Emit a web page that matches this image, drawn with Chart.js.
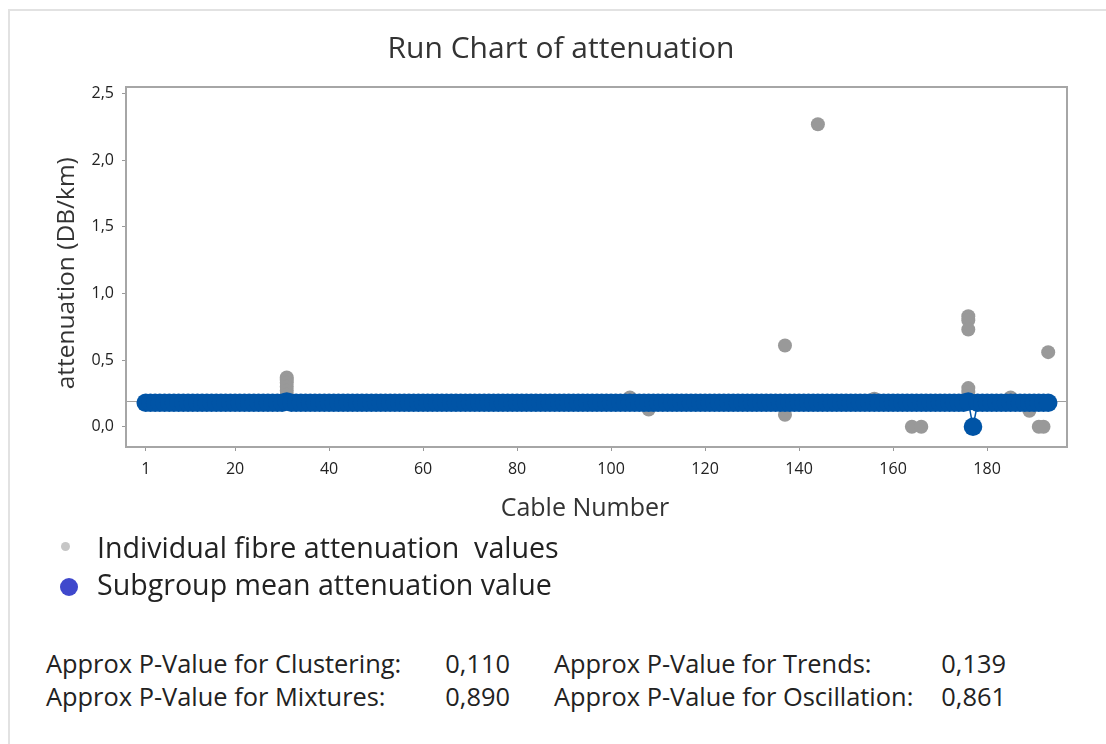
<!DOCTYPE html>
<html>
<head>
<meta charset="utf-8">
<title>Run Chart of attenuation</title>
<script src="https://cdn.jsdelivr.net/npm/chart.js@4.4.1/dist/chart.umd.min.js"></script>
<style>
  body { margin: 0; background: #fff; width: 1106px; height: 744px; overflow: hidden; position: relative; font-family: "Open Sans", sans-serif; }
  #bordo { position: absolute; left: 8px; top: 9px; width: 1200px; height: 800px; border-left: 2px solid #e2e2e2; border-top: 2px solid #e2e2e2; }
  #myChart { position: absolute; left: 0; top: 0; }
  .tit { position: absolute; color: #333; white-space: pre; line-height: 1; text-align: center; }
  .leg { position: absolute; left: 97px; font-size: 28.6px; color: #222; white-space: pre; line-height: 1; }
  .dot { position: absolute; border-radius: 50%; }
  .pv { position: absolute; font-size: 25.4px; color: #222; white-space: pre; line-height: 1; }
  .num { text-align: right; width: 90px; }
</style>
</head>
<body>
<div id="bordo"></div>
<canvas id="myChart" width="1106" height="530"></canvas>

<div class="tit" style="left:361px; width:400px; top:32px; font-size:30px;">Run Chart of attenuation</div>
<div class="tit" style="left:435px; width:300px; top:494px; font-size:25px;">Cable Number</div>
<div class="tit" style="left:-85px; width:300px; top:261px; font-size:24.5px; transform: rotate(-90deg);">attenuation (DB/km)</div>

<div class="dot" style="left:61px; top:542px; width:9px; height:9px; background:#c6c6c6;"></div>
<div class="leg" style="top:533px;">Individual fibre attenuation  values</div>
<div class="dot" style="left:60px; top:578px; width:18px; height:18px; background:#3f48cc;"></div>
<div class="leg" style="top:570px;">Subgroup mean attenuation value</div>

<div class="pv" style="left:46px; top:651px;">Approx P-Value for Clustering:</div>
<div class="pv num" style="left:420px; top:651px;">0,110</div>
<div class="pv" style="left:554px; top:651px;">Approx P-Value for Trends:</div>
<div class="pv num" style="left:916px; top:651px;">0,139</div>
<div class="pv" style="left:46px; top:684px;">Approx P-Value for Mixtures:</div>
<div class="pv num" style="left:420px; top:684px;">0,890</div>
<div class="pv" style="left:554px; top:684px;">Approx P-Value for Oscillation:</div>
<div class="pv num" style="left:916px; top:684px;">0,861</div>

<script>
// valori

// singole fibre (solo quelle che escono dalla fascia blu)
var fibreCable = [31, 31, 31, 31, 31, 31, 104, 108, 137, 137, 144, 156, 164, 166,
                  176, 176, 176, 176, 176, 176, 177, 185, 189, 191, 192, 193];
var fibreValue = [0.37, 0.35, 0.33, 0.30, 0.27, 0.24, 0.22, 0.13, 0.61, 0.09, 2.27, 0.21, 0.00, 0.00,
                  0.83, 0.80, 0.73, 0.29, 0.26, 0.23, 0.00, 0.22, 0.12, 0.00, 0.00, 0.56];

// media di ogni sottogruppo, cavo 1 .. 193
var meanValue = [
  0.18, 0.18, 0.18, 0.18, 0.18, 0.18, 0.18, 0.18, 0.18, 0.18,
  0.18, 0.18, 0.18, 0.18, 0.18, 0.18, 0.18, 0.18, 0.18, 0.18,
  0.18, 0.18, 0.18, 0.18, 0.18, 0.18, 0.18, 0.18, 0.18, 0.18,
  0.19, 0.18, 0.18, 0.18, 0.18, 0.18, 0.18, 0.18, 0.18, 0.18,
  0.18, 0.18, 0.18, 0.18, 0.18, 0.18, 0.18, 0.18, 0.18, 0.18,
  0.18, 0.18, 0.18, 0.18, 0.18, 0.18, 0.18, 0.18, 0.18, 0.18,
  0.18, 0.18, 0.18, 0.18, 0.18, 0.18, 0.18, 0.18, 0.18, 0.18,
  0.18, 0.18, 0.18, 0.18, 0.18, 0.18, 0.18, 0.18, 0.18, 0.18,
  0.18, 0.18, 0.18, 0.18, 0.18, 0.18, 0.18, 0.18, 0.18, 0.18,
  0.18, 0.18, 0.18, 0.18, 0.18, 0.18, 0.18, 0.18, 0.18, 0.18,
  0.18, 0.18, 0.18, 0.18, 0.18, 0.18, 0.18, 0.18, 0.18, 0.18,
  0.18, 0.18, 0.18, 0.18, 0.18, 0.18, 0.18, 0.18, 0.18, 0.18,
  0.18, 0.18, 0.18, 0.18, 0.18, 0.18, 0.18, 0.18, 0.18, 0.18,
  0.18, 0.18, 0.18, 0.18, 0.18, 0.18, 0.18, 0.18, 0.18, 0.18,
  0.18, 0.18, 0.18, 0.18, 0.18, 0.18, 0.18, 0.18, 0.18, 0.18,
  0.18, 0.18, 0.18, 0.18, 0.18, 0.18, 0.18, 0.18, 0.18, 0.18,
  0.18, 0.18, 0.18, 0.18, 0.18, 0.18, 0.18, 0.18, 0.18, 0.18,
  0.18, 0.18, 0.18, 0.18, 0.18, 0.19, 0.00, 0.18, 0.18, 0.18,
  0.18, 0.18, 0.18, 0.18, 0.18, 0.18, 0.18, 0.18, 0.18, 0.18,
  0.18, 0.18, 0.18
];

var medianValue = 0.19;
var xTickLabels = [1, 20, 40, 60, 80, 100, 120, 140, 160, 180];
var yTickLabels = [0, 0.5, 1.0, 1.5, 2.0, 2.5];

// costruisco i punti per chart.js
var puntiFibre = [];
for (var i = 0; i < fibreCable.length; i++) {
  puntiFibre.push({x: fibreCable[i], y: fibreValue[i]});
}
var puntiMedie = [];
for (var i = 0; i < meanValue.length; i++) {
  puntiMedie.push({x: i + 1, y: meanValue[i]});
}

// linea della mediana + cornice del grafico
var cornice = {
  id: 'cornice',
  beforeDatasetsDraw: function(chart) {
    var ctx = chart.ctx, a = chart.chartArea;
    var y = Math.round(chart.scales.y.getPixelForValue(medianValue)) + 0.5;
    ctx.save();
    ctx.strokeStyle = '#a0a0a0';
    ctx.lineWidth = 1;
    ctx.beginPath();
    ctx.moveTo(a.left, y);
    ctx.lineTo(a.right, y);
    ctx.stroke();
    ctx.restore();
  },
  afterDraw: function(chart) {
    var ctx = chart.ctx, a = chart.chartArea;
    ctx.save();
    ctx.strokeStyle = '#a6a6a6';
    ctx.lineWidth = 2;
    ctx.strokeRect(a.left, a.top, a.right - a.left, a.bottom - a.top);
    ctx.restore();
  }
};

var ctx = document.getElementById('myChart').getContext('2d');
var myChart = new Chart(ctx, {
  type: 'scatter',
  data: {
    datasets: [{
      label: 'Subgroup mean attenuation value',
      type: 'line',
      data: puntiMedie,
      borderColor: '#0054a6',
      borderWidth: 1.5,
      backgroundColor: '#0054a6',
      pointBackgroundColor: '#0054a6',
      pointBorderWidth: 0,
      pointRadius: 9.3,
      showLine: true,
      tension: 0,
      order: 1
    }, {
      label: 'Individual fibre attenuation values',
      data: puntiFibre,
      pointBackgroundColor: '#999999',
      pointBorderWidth: 0,
      pointRadius: 7,
      order: 2
    }]
  },
  options: {
    responsive: false,
    animation: false,
    devicePixelRatio: 1,
    layout: { padding: { left: 0, right: 39, top: 87, bottom: 0 } },
    plugins: {
      legend: { display: false },
      tooltip: { enabled: false },
      title: { display: false }
    },
    scales: {
      x: {
        type: 'linear',
        min: -3.2,
        max: 197,
        afterFit: function(scale) { scale.height = 83; },
        afterBuildTicks: function(scale) {
          scale.ticks = xTickLabels.map(function(v) { return {value: v}; });
        },
        ticks: {
          color: '#222',
          font: { family: 'Open Sans', size: 16 },
          padding: 9,
          maxRotation: 0,
          autoSkip: false
        },
        grid: { drawOnChartArea: false, drawTicks: true, tickLength: 4, color: '#999' },
        border: { display: false }
      },
      y: {
        min: -0.152,
        max: 2.55,
        afterFit: function(scale) { scale.width = 126; },
        afterBuildTicks: function(scale) {
          scale.ticks = yTickLabels.map(function(v) { return {value: v}; });
        },
        ticks: {
          color: '#222',
          font: { family: 'Open Sans', size: 16 },
          padding: 8,
          callback: function(v) { return v.toFixed(1).replace('.', ','); }
        },
        grid: { drawOnChartArea: false, drawTicks: true, tickLength: 4, color: '#999' },
        border: { display: false }
      }
    }
  },
  plugins: [cornice]
});
</script>
</body>
</html>
